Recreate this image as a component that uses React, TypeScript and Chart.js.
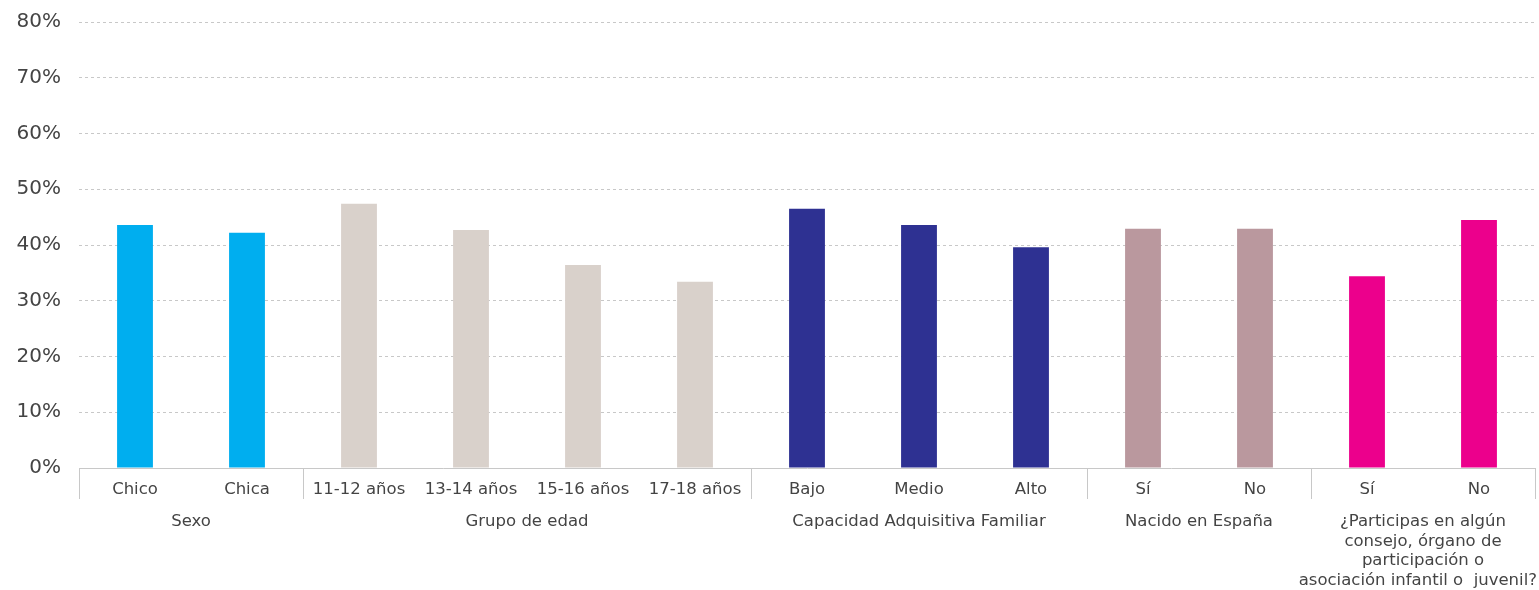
import React, { useEffect, useRef } from "react";
import { Chart, registerables } from "chart.js";

Chart.register(...registerables);

const categories = [
  "Chico", "Chica",
  "11-12 años", "13-14 años", "15-16 años", "17-18 años",
  "Bajo", "Medio", "Alto",
  "Sí", "No",
  "Sí", "No",
];
const values = [43.6, 42.2, 47.4, 42.7, 36.4, 33.4, 46.5, 43.6, 39.6, 42.9, 42.9, 34.4, 44.5];
const groupLabels = [
  ["Sexo"],
  ["Grupo de edad"],
  ["Capacidad Adquisitiva Familiar"],
  ["Nacido en España"],
  ["¿Participas en algún", "consejo, órgano de", "participación o", "asociación infantil o  juvenil?"],
];
const groupSizes = [2, 4, 3, 2, 2];
const groupColors = ["#00AEEF", "#D9D1CB", "#2E3192", "#BA989E", "#EC008C"];

const FONT = "'DejaVu Sans', sans-serif";
const TEXT = "#444444";
const LINE = "#c8c8c8";

const barColors: string[] = [];
groupSizes.forEach((n, g) => {
  for (let i = 0; i < n; i++) barColors.push(groupColors[g]);
});

const groupPlugin = {
  id: "groupPlugin",
  afterDraw(chart: any) {
    const { ctx, chartArea } = chart;
    const xs = chart.scales.x;
    const half = (xs.getPixelForValue(1) - xs.getPixelForValue(0)) / 2;
    const bottom = chartArea.bottom;
    ctx.save();
    ctx.strokeStyle = LINE;
    ctx.lineWidth = 1;
    let idx = 0;
    const bounds: number[] = [0];
    groupSizes.forEach((n) => {
      idx += n;
      bounds.push(idx);
    });
    bounds.forEach((b) => {
      const x = Math.round(xs.getPixelForValue(b) - half) + 0.5;
      ctx.beginPath();
      ctx.moveTo(x, bottom);
      ctx.lineTo(x, bottom + 31);
      ctx.stroke();
    });
    ctx.fillStyle = TEXT;
    ctx.font = `16.5px ${FONT}`;
    ctx.textAlign = "center";
    ctx.textBaseline = "middle";
    for (let g = 0; g < groupSizes.length; g++) {
      const x0 = xs.getPixelForValue(bounds[g]);
      const x1 = xs.getPixelForValue(bounds[g + 1] - 1);
      const cx = (x0 + x1) / 2;
      groupLabels[g].forEach((line, li) => {
        const w = ctx.measureText(line).width;
        const x = Math.min(cx, chart.width - 2 - w / 2);
        ctx.fillText(line, x, bottom + 54 + li * 19.5);
      });
    }
    ctx.restore();
  },
};

export default function App() {
  const ref = useRef<HTMLCanvasElement>(null);
  useEffect(() => {
    document.body.style.margin = "0";
    document.body.style.overflow = "hidden";
    if (!ref.current) return;
    const chart = new Chart(ref.current, {
      type: "bar",
      data: {
        labels: categories,
        datasets: [
          {
            data: values,
            backgroundColor: barColors,
            barPercentage: 0.32,
            categoryPercentage: 1,
          },
        ],
      },
      options: {
        animation: false,
        responsive: true,
        maintainAspectRatio: false,
        layout: { padding: { top: 22, right: 4, left: 0, bottom: 0 } },
        plugins: { legend: { display: false }, tooltip: { enabled: false } },
        scales: {
          x: {
            grid: { display: false, drawTicks: false },
            border: { display: true, color: LINE, width: 1 },
            ticks: {
              color: TEXT,
              font: { family: FONT, size: 16.5 },
              padding: 12,
              maxRotation: 0,
              autoSkip: false,
            },
            afterFit(scale: any) {
              scale.height = 122;
            },
          },
          y: {
            min: 0,
            max: 80,
            grid: {
              drawTicks: false,
              color: (c: any) => (c.index === 0 ? "rgba(0,0,0,0)" : LINE),
              lineWidth: 1,
            },
            border: { display: false, dash: [3, 3] },
            ticks: {
              stepSize: 10,
              color: TEXT,
              font: { family: FONT, size: 20 },
              padding: 18,
              callback: (v: any) => `${v}%`,
            },
            afterFit(scale: any) {
              scale.width = 79;
              scale.paddingTop = 0;
              scale.paddingBottom = 0;
            },
          },
        },
      },
      plugins: [groupPlugin],
    });
    return () => chart.destroy();
  }, []);
  return (
    <div style={{ width: "1539px", height: "590px", position: "relative" }}>
      <canvas ref={ref} />
    </div>
  );
}
